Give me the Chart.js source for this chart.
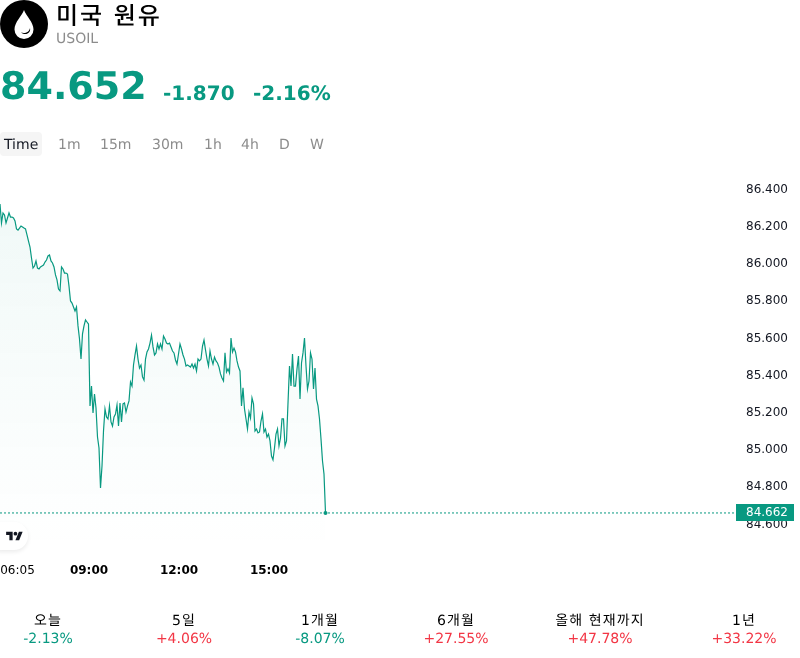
<!DOCTYPE html>
<html>
<head>
<meta charset="utf-8">
<title>USOIL</title>
<script src="https://cdn.jsdelivr.net/npm/chart.js@4"></script>
<style>
html, body { margin: 0; padding: 0; background: #fff; overflow: hidden; }
body { width: 800px; height: 658px; position: relative; font-family: "DejaVu Sans", "Noto Sans CJK KR", sans-serif; color: #000; text-rendering: geometricPrecision; }
.abs { position: absolute; white-space: nowrap; will-change: transform; }
#icon { left: 0; top: 0; width: 48px; height: 48px; }
#name { left: 56px; top: 1px; font-size: 24px; line-height: 30px; font-weight: 500; letter-spacing: 2px; }
#symbol { left: 56px; top: 31px; font-size: 14px; line-height: 17px; color: #8c8c8c; }
#price { left: 0; top: 64px; font-size: 38px; line-height: 44px; font-weight: bold; color: #089981; }
#change { left: 163px; top: 81px; font-size: 20px; line-height: 24px; font-weight: bold; color: #089981; }
#changePct { left: 253px; top: 81px; font-size: 20px; line-height: 24px; font-weight: bold; color: #089981; }
.tab { top: 136px; font-size: 14px; line-height: 18px; color: #8c8c8c; }
.tab.on { color: #131722; }
#tabBg { left: 0; top: 132px; width: 42px; height: 24px; border-radius: 4px; background: #f5f5f5; }
#chart { position: absolute; left: 0; top: 171px; }
#logo { left: -14px; top: 522px; width: 42px; height: 28px; border-radius: 14px; background: #fff; box-shadow: 0 2px 4px rgba(0,0,0,0.08); }
#logo svg { position: absolute; left: 20px; top: 7px; }
.per { transform: translateX(-50%); font-size: 14px; line-height: 18px; text-align: center; }
.per span { display: block; letter-spacing: 1.1px; }
.per b { display: block; font-weight: normal; }
</style>
</head>
<body>
<svg id="icon" class="abs" viewBox="0 0 48 48">
  <circle cx="24" cy="24" r="24" fill="#000"/>
  <path d="M24 10 C26 16 33.5 22 33.5 29.5 A9.5 9.5 0 0 1 14.5 29.5 C14.5 22 22 16 24 10 Z" fill="#fff"/>
  <path d="M21 32.5 C25 34 29.5 32 30 28 C31 33 26 36 21 32.5 Z" fill="#000"/>
</svg>
<div id="name" class="abs">미국 원유</div>
<div id="symbol" class="abs">USOIL</div>
<div id="price" class="abs">84.652</div>
<div id="change" class="abs">-1.870</div>
<div id="changePct" class="abs">-2.16%</div>
<div id="tabBg" class="abs"></div>
<canvas id="chart" width="794" height="415"></canvas>
<div id="logo" class="abs">
  <svg width="17" height="13" viewBox="0 0 36 28"><path fill="#131722" d="M14 24H7V13H0V6h14v18zM28 24h-8l7.5-18h8L28 24z"/><circle fill="#131722" cx="20" cy="10" r="4"/></svg>
</div>
<script>
const tabs = ['Time', '1m', '15m', '30m', '1h', '4h', 'D', 'W'];
const tabLeft = [4, 58, 100, 152, 204, 241, 279, 310];

const periods = ['오늘', '5일', '1개월', '6개월', '올해 현재까지', '1년'];
const periodValues = ['-2.13%', '+4.06%', '-8.07%', '+27.55%', '+47.78%', '+33.22%'];
const periodCenter = [48, 184, 320, 456, 600, 744];

const yTicks = [84.6, 84.8, 85.0, 85.2, 85.4, 85.6, 85.8, 86.0, 86.2, 86.4];
// minutes since 06:00. first label is nudged right so it sits flush with the left edge
const xTickMinutes = [37, 180, 360, 540];
const xTickLabels = ['06:05', '09:00', '12:00', '15:00'];

const startMinute = 2;
const stepMinutes = 3;
const lastPrice = 84.662;
const prices = [
  86.322, 86.220, 86.274, 86.263, 86.220, 86.247, 86.274, 86.252, 86.252, 86.247,
  86.231, 86.188, 86.182, 86.193, 86.204, 86.199, 86.193, 86.188, 86.156, 86.123,
  86.091, 86.032, 85.978, 85.989, 86.016, 85.978, 85.973, 85.984, 85.989, 85.994,
  86.010, 86.021, 86.043, 86.048, 86.016, 86.005, 85.984, 85.941, 85.914, 85.865,
  85.855, 85.984, 85.973, 85.951, 85.951, 85.946, 85.881, 85.801, 85.790, 85.769,
  85.747, 85.769, 85.667, 85.597, 85.489, 85.624, 85.667, 85.699, 85.688, 85.677,
  85.237, 85.344, 85.199, 85.301, 85.226, 85.070, 85.011, 84.796, 84.914, 85.102,
  85.221, 85.178, 85.167, 85.237, 85.151, 85.129, 85.178, 85.194, 85.242, 85.129,
  85.253, 85.151, 85.248, 85.253, 85.204, 85.237, 85.264, 85.366, 85.344, 85.457,
  85.511, 85.559, 85.489, 85.441, 85.457, 85.393, 85.376, 85.489, 85.527, 85.543,
  85.575, 85.618, 85.554, 85.511, 85.522, 85.570, 85.543, 85.570, 85.543, 85.613,
  85.597, 85.575, 85.570, 85.575, 85.554, 85.532, 85.522, 85.484, 85.462, 85.516,
  85.570, 85.543, 85.511, 85.489, 85.452, 85.457, 85.452, 85.446, 85.462, 85.441,
  85.462, 85.425, 85.489, 85.479, 85.489, 85.559, 85.591, 85.538, 85.489, 85.452,
  85.532, 85.489, 85.462, 85.500, 85.479, 85.468, 85.446, 85.409, 85.387, 85.371,
  85.522, 85.419, 85.436, 85.414, 85.602, 85.527, 85.548, 85.527, 85.479, 85.446,
  85.425, 85.237, 85.334, 85.221, 85.167, 85.113, 85.204, 85.172, 85.280, 85.248,
  85.102, 85.113, 85.092, 85.097, 85.156, 85.194, 85.097, 85.113, 85.070, 85.086,
  85.049, 84.968, 84.947, 85.011, 85.086, 85.113, 85.022, 85.065, 85.167, 85.167,
  85.022, 85.049, 85.253, 85.452, 85.344, 85.516, 85.344, 85.344, 85.436, 85.505,
  85.274, 85.468, 85.522, 85.602, 85.452, 85.328, 85.371, 85.522, 85.489, 85.328,
  85.441, 85.274, 85.237, 85.167, 85.059, 84.941, 84.871, lastPrice
];

const green = '#089981';
const red = '#f23645';
const xMin = startMinute;
const xMax = startMinute + 1480;

tabs.forEach((t, i) => {
  const el = document.createElement('div');
  el.className = 'abs tab' + (i === 0 ? ' on' : '');
  el.style.left = tabLeft[i] + 'px';
  el.textContent = t;
  document.body.appendChild(el);
});

periods.forEach((p, i) => {
  const el = document.createElement('div');
  el.className = 'abs per';
  el.style.left = periodCenter[i] + 'px';
  el.style.top = '612px';
  const label = document.createElement('span');
  label.textContent = p;
  const v = document.createElement('b');
  v.textContent = periodValues[i];
  v.style.color = periodValues[i][0] === '-' ? green : red;
  el.appendChild(label);
  el.appendChild(v);
  document.body.appendChild(el);
});

const priceTag = {
  id: 'priceTag',
  afterDraw(chart) {
    const c = chart.ctx;
    const y = Math.round(chart.scales.y.getPixelForValue(lastPrice));
    c.save();
    c.fillStyle = green;
    c.fillRect(736, y - 9, 58, 17);
    c.fillStyle = '#fff';
    c.font = '12px "DejaVu Sans"';
    c.textBaseline = 'middle';
    c.fillText(lastPrice.toFixed(3), 746, y);
    c.restore();
  }
};

const chart = new Chart(document.getElementById('chart'), {
  type: 'line',
  data: {
    datasets: [
      {
        data: prices.map((p, i) => ({ x: startMinute + i * stepMinutes, y: p })),
        borderColor: green,
        borderWidth: 1.2,
        tension: 0,
        fill: 'start',
        backgroundColor(ctx) {
          const area = ctx.chart.chartArea;
          if (!area) return 'transparent';
          const g = ctx.chart.ctx.createLinearGradient(0, area.top + 30, 0, area.bottom);
          g.addColorStop(0, 'rgba(8,153,129,0.06)');
          g.addColorStop(1, 'rgba(8,153,129,0)');
          return g;
        },
        pointRadius: ctx => (ctx.dataIndex === prices.length - 1 ? 2 : 0),
        pointBackgroundColor: green,
        pointBorderWidth: 0
      },
      {
        data: [{ x: xMin, y: lastPrice }, { x: xMax, y: lastPrice }],
        borderColor: green,
        borderWidth: 1,
        borderDash: [2, 2],
        pointRadius: 0,
        fill: false
      }
    ]
  },
  options: {
    responsive: false,
    animation: false,
    events: [],
    layout: { padding: 0, autoPadding: false },
    plugins: { legend: { display: false }, tooltip: { enabled: false } },
    scales: {
      x: {
        type: 'linear',
        min: xMin,
        max: xMax,
        afterBuildTicks(s) { s.ticks = xTickMinutes.map(v => ({ value: v })); },
        afterFit(s) { s.height = 34; s.paddingLeft = 0; s.paddingRight = 0; },
        grid: { display: false, drawTicks: false },
        border: { display: false },
        ticks: {
          autoSkip: false,
          maxRotation: 0,
          padding: 12,
          color: '#000',
          font: ctx => ({ family: '"DejaVu Sans"', size: 12, weight: ctx.index === 0 ? 'normal' : 'bold' }),
          callback: (v, i) => xTickLabels[i]
        }
      },
      y: {
        position: 'right',
        min: 84.4522,
        max: 86.4994,
        afterBuildTicks(s) { s.ticks = yTicks.map(v => ({ value: v })); },
        afterFit(s) { s.width = 54; s.paddingTop = 0; s.paddingBottom = 0; },
        grid: { display: false, drawTicks: false },
        border: { display: false },
        ticks: {
          padding: 6,
          color: '#131722',
          font: { family: '"DejaVu Sans"', size: 12 },
          callback: v => v.toFixed(3)
        }
      }
    }
  },
  plugins: [priceTag]
});
</script>
</body>
</html>
